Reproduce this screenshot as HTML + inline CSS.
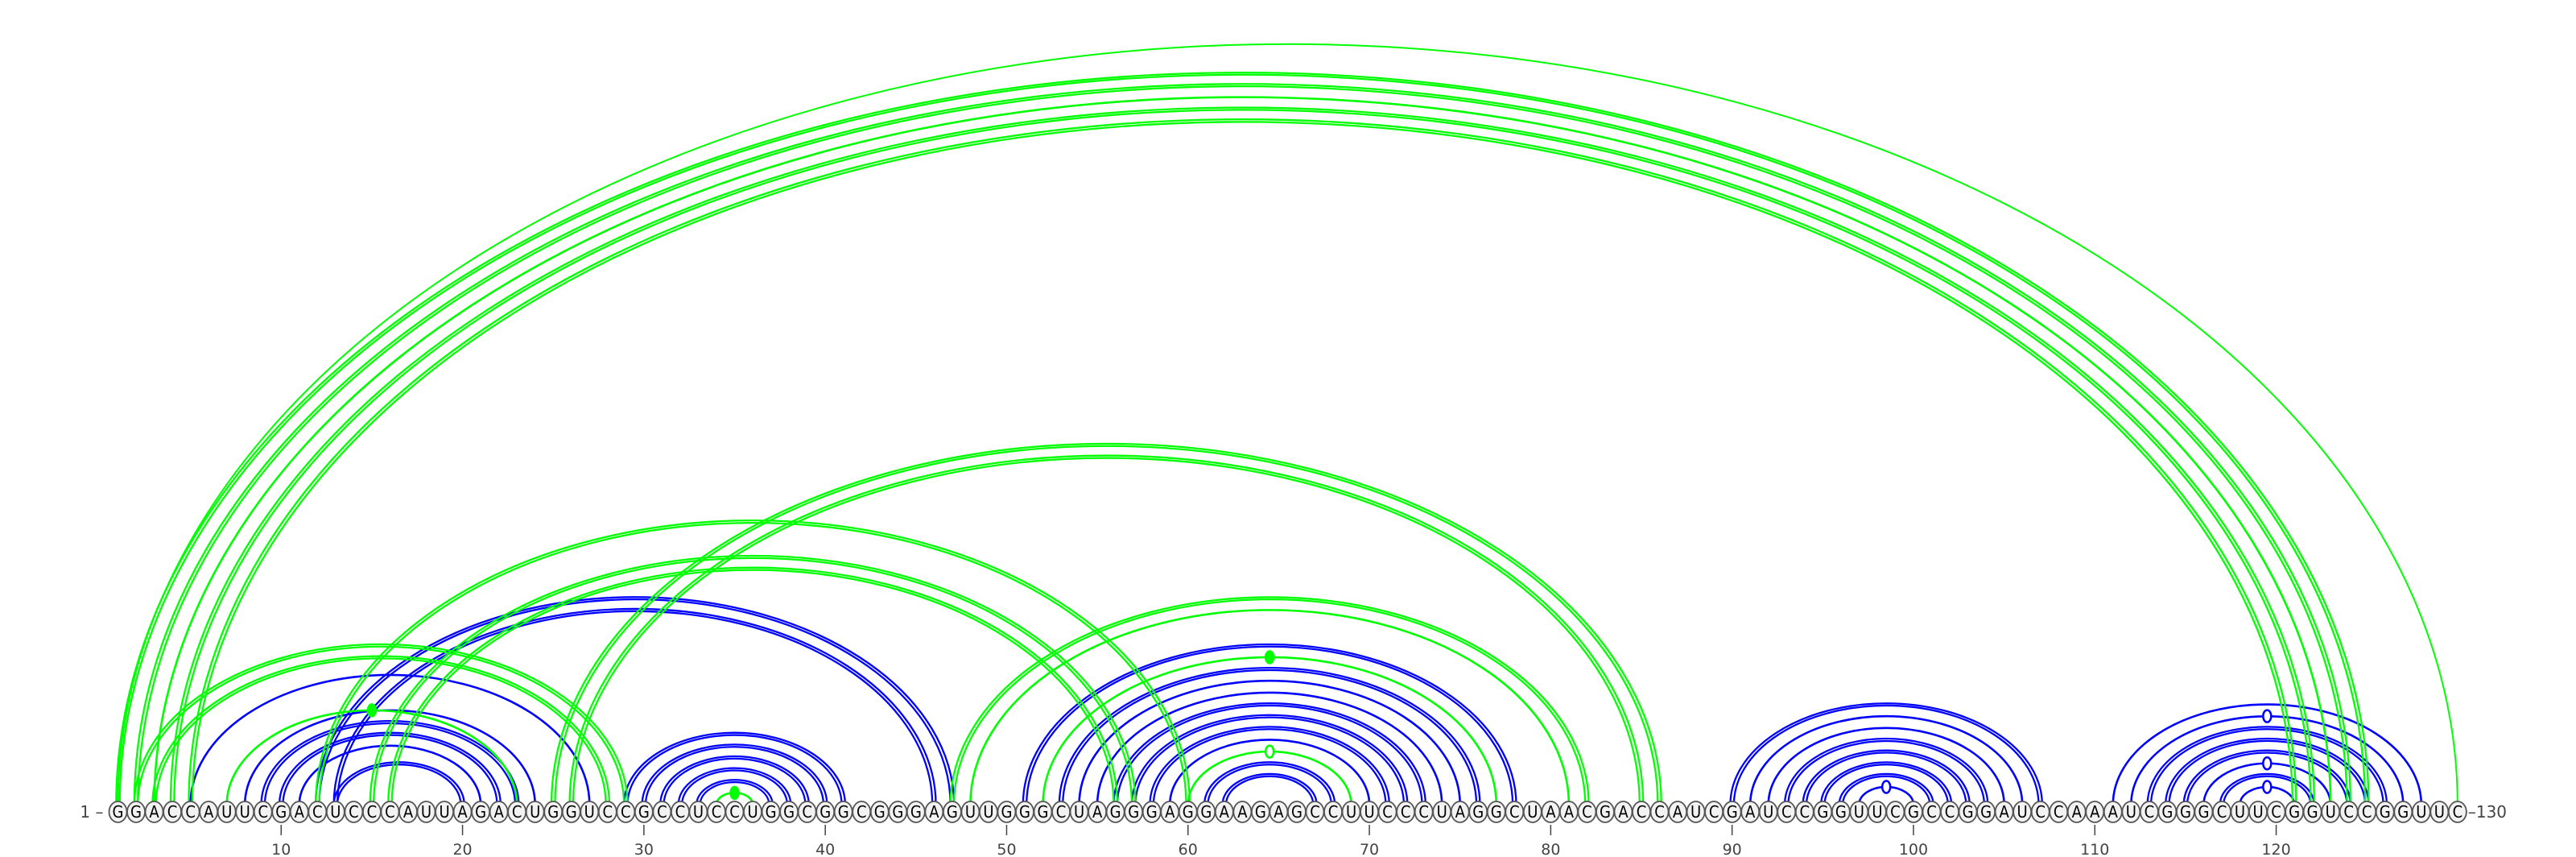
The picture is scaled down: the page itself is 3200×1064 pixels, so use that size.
<!DOCTYPE html>
<html><head><meta charset="utf-8"><style>
body{margin:0;background:#fff;}
svg{display:block;}
</style></head><body>
<svg id="chart" width="3200" height="1064" viewBox="0 0 3200 1064" xmlns="http://www.w3.org/2000/svg"></svg>
<script>
const sequence = "GGACCAUUCGACUCCCAUUAGACUGGUCCGCCUCCUGGCGGCGGGAGUUGGGCUAGGGAGGAAGAGCCUUCCCUAGGCUAACGACCAUCGAUCCGGUUCGCCGGAUCCAAAUCGGGCUUCGGUCCGGUUC";
const tickLabels = [10,20,30,40,50,60,70,80,90,100,110,120];
// blue structure pairs: [i, j, double(1/0), marker(0 none,1 open)]
const bluePairs = [
 [5,27,0,0],[8,24,0,0],[9,23,1,0],[10,22,1,0],[11,21,0,0],[13,20,1,0],
 [12,47,1,0],[13,46,1,0],
 [29,41,1,0],[30,40,1,0],[31,39,1,0],[32,38,1,0],[33,37,1,0],
 [51,78,1,0],[53,76,1,0],[54,75,0,0],[55,74,0,0],[56,73,1,0],[57,72,1,0],[58,71,1,0],[59,70,0,0],[61,68,1,0],[62,67,1,0],
 [90,107,1,0],[91,106,0,0],[92,105,0,0],[93,104,1,0],[94,103,1,0],[95,102,1,0],[96,101,1,0],[97,100,0,1],
 [111,128,0,0],[112,127,0,1],[113,126,1,0],[114,125,1,0],[115,124,1,0],[116,123,0,1],[117,122,1,0],[118,121,0,1]
];
// green structure pairs: [i, j, double, marker(0 none,1 open,2 filled)]
const greenPairs = [
 [1,130,1,0],[1,125,1,0],[2,124,1,0],[3,123,0,0],[4,122,1,0],[5,121,1,0],
 [2,29,1,0],[3,28,1,0],[7,23,0,2],
 [12,60,1,0],[15,57,1,0],[16,56,1,0],
 [25,86,1,0],[26,85,1,0],
 [34,36,0,2],
 [47,82,1,0],[48,81,0,0],
 [52,77,0,2],[60,69,0,1]
];
const NS="http://www.w3.org/2000/svg";
const svg=document.getElementById('chart');
const X0=146.5, DX=22.53, BASE=1008, ARCY=999, RATIO=0.65;
function xOf(i){return X0+(i-1)*DX;}
function mk(t,a){const e=document.createElementNS(NS,t);for(const k in a)e.setAttribute(k,a[k]);return e;}
const arcsG=mk('g',{});


svg.appendChild(arcsG);
function drawArc(p,color,name){
  const [i,j,dbl,mark]=p;
  const cx=(xOf(i)+xOf(j))/2, rx=(xOf(j)-xOf(i))/2;
  const thinOuter=(i===1&&j===130);
  const offs=(dbl&&!thinOuter)?[-2.2,2.2]:[0];
  offs.forEach(o=>{
    const r=rx+o, ry=r*RATIO;
    const path=mk('path',{d:`M${cx-r},${ARCY} A${r},${ry} 0 0 1 ${cx+r},${ARCY}`,fill:'none',stroke:color,'stroke-width':thinOuter?2:(dbl?2.3:2.6)});
    
    
    arcsG.appendChild(path);
  });
  if(mark){
    const ty=ARCY-rx*RATIO;
    const m=mk('ellipse',{cx:cx,cy:ty,rx:5,ry:7.5,fill:mark==2?color:'#fff',stroke:color,'stroke-width':2.5});
    
    
    arcsG.appendChild(m);
  }
}
bluePairs.forEach(p=>drawArc(p,'#0000ff','blue'));
greenPairs.forEach(p=>drawArc(p,'#00ff00','green'));
const seqG=mk('g',{});


svg.appendChild(seqG);
for(let k=0;k<sequence.length;k++){
  const x=xOf(k+1);
  const c=mk('ellipse',{cx:x,cy:BASE,rx:11,ry:13,fill:'#f2f2f2',stroke:'#555','stroke-width':1.8});
  
  
  seqG.appendChild(c);
  const t=mk('text',{x:x,y:BASE+7,'text-anchor':'middle','font-size':20,'font-family':'"DejaVu Sans Condensed","Liberation Sans",sans-serif',fill:'#000'});
  t.textContent=sequence[k];
  
  
  seqG.appendChild(t);
}
tickLabels.forEach(v=>{
  const x=xOf(v);
  const l=mk('line',{x1:x,x2:x,y1:1024,y2:1037,stroke:'#444','stroke-width':1.5});
  
  
  svg.appendChild(l);
  const t=mk('text',{x:x,y:1061,'text-anchor':'middle','font-size':19,'font-family':'"DejaVu Sans","Liberation Sans",sans-serif',fill:'#444'});
  t.textContent=v;
  
  
  svg.appendChild(t);
});
const s=mk('text',{x:xOf(1)-18,y:BASE+7,'text-anchor':'end','font-size':20,'font-family':'"DejaVu Sans","Liberation Sans",sans-serif',fill:'#444'});
s.textContent='1 –';


svg.appendChild(s);
const e=mk('text',{x:xOf(130)+13,y:BASE+7,'text-anchor':'start','font-size':20,'font-family':'"DejaVu Sans","Liberation Sans",sans-serif',fill:'#444'});
e.textContent='–130';


svg.appendChild(e);
</script>
</body></html>
